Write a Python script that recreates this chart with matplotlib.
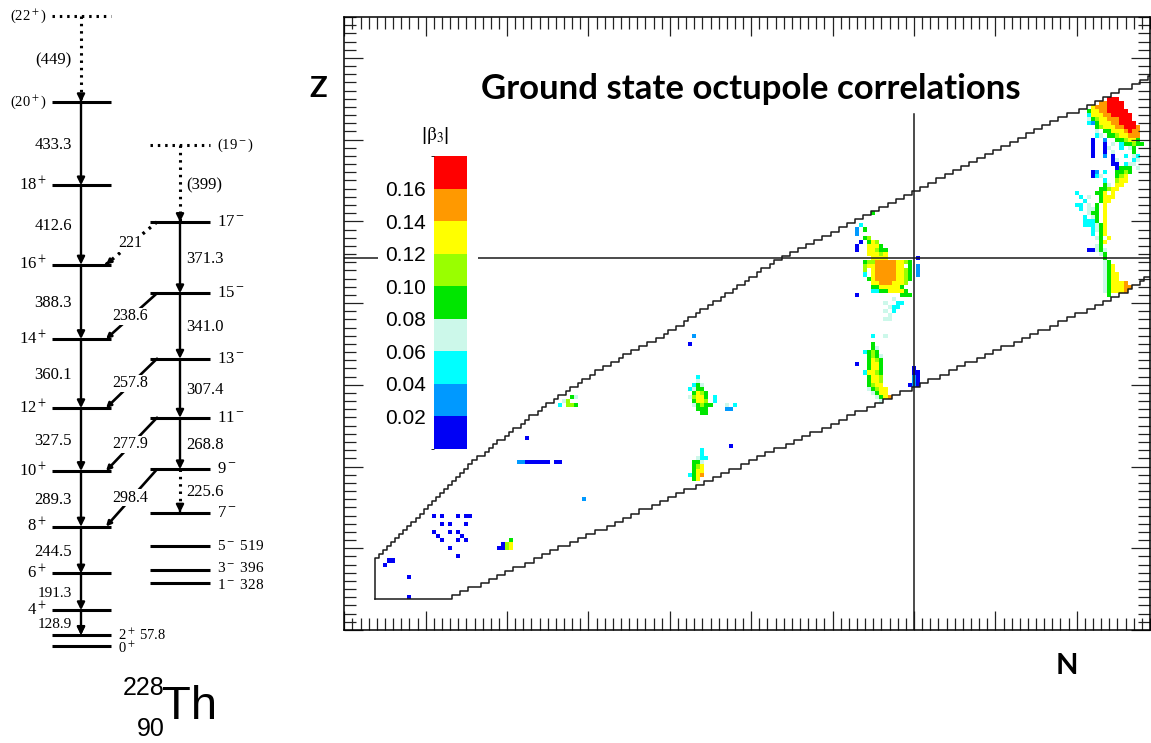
import numpy as np
import matplotlib.pyplot as plt
from matplotlib.colors import ListedColormap, BoundaryNorm
from matplotlib.cm import ScalarMappable
from matplotlib.patches import Rectangle
from matplotlib.ticker import MultipleLocator

plt.rcParams['mathtext.fontset'] = 'stix'

# ---------------- level scheme of 228Th (keV) ----------------
gsb_spins = ['0', '2', '4', '6', '8', '10', '12', '14', '16', '18', '20', '22']
gsb_gammas = [57.8, 128.9, 191.3, 244.5, 289.3, 327.5, 360.1, 388.3, 412.6, 433.3, 449]
gsb_gamma_labels = ['', '128.9', '191.3', '244.5', '289.3', '327.5', '360.1',
                    '388.3', '412.6', '433.3', '(449)']
low_neg_spins = ['1', '3', '5']
low_neg_energies = [328, 396, 519]
neg_spins = ['7', '9', '11', '13', '15', '17', '19']
neg_gammas = [225.6, 268.8, 307.4, 341.0, 371.3, 399]
neg_gamma_labels = ['225.6', '268.8', '307.4', '341.0', '371.3', '(399)']
e1_gammas = [298.4, 277.9, 257.8, 238.6, 221]      # 9-->8+, 11-->10+, ... 17-->16+
e1_labels = ['298.4', '277.9', '257.8', '238.6', '221']

# ---------------- octupole map ----------------
beta_bins = [0, 0.02, 0.04, 0.06, 0.08, 0.10, 0.12, 0.14, 0.16, 0.18]
bin_colors = ['#0000f5', '#0099ff', '#00ffff', '#ccf8ea', '#00e600',
              '#99ff00', '#ffff00', '#ff9900', '#ff0000']
bar_ticks = ['0.02', '0.04', '0.06', '0.08', '0.10', '0.12', '0.14', '0.16']
# code letter -> |beta3|
code_beta = {'b': 0.01, 'a': 0.03, 'c': 0.05, 'm': 0.07, 'g': 0.09,
             'l': 0.11, 'y': 0.13, 'o': 0.15, 'r': 0.17}

# (Z, first N, codes along N)
cells = [
    (8, 16, 'b'), (13, 16, 'b'), (16, 10, 'b'), (17, 11, 'bb'),
    (18, 28, 'b'), (20, 26, 'b'), (22, 24, 'b...b.b'), (23, 23, 'b.....b'),
    (24, 22, 'b...b.b'), (26, 24, 'b.b...b'), (28, 22, 'b.b...b.bb'),
    (20, 38, 'bbly'), (21, 39, 'bly'), (22, 41, 'g'),
    (32, 59, 'a'), (41, 43, 'aabbbbbb.bb'), (47, 45, 'b'),
    (55, 53, 'c.llg'), (56, 54, 'ml'), (57, 56, 'gm'),
    (37, 86, 'gy'), (38, 85, 'cgyo'), (39, 86, 'gyy'), (40, 86, 'gly'),
    (41, 86, 'ggm'), (42, 87, 'mcc'), (43, 88, 'c'), (44, 88, 'c'), (45, 95, 'b'),
    (53, 88, 'gg'), (54, 87, 'ggg....aa'), (55, 86, 'mglgg...m.c'),
    (56, 86, 'gyyl.c'), (57, 85, 'mlyyg.c'), (58, 86, 'gylg'), (59, 85, 'cmgg'),
    (60, 86, 'cgm'), (61, 87, 'm'), (62, 87, 'c'), (70, 85, 'b'), (72, 86, 'a'),
    (56, 132, 'm'), (57, 131, 'mgyo'), (58, 130, 'mgyy'), (59, 129, 'mglyy'),
    (60, 129, 'glyy......bab'), (61, 129, 'gyyl.......ab'), (62, 129, 'gyyl.......ab'),
    (63, 128, 'cyylg.......bb'), (64, 129, 'gyyg.......b'), (65, 126, 'b..gyyg'),
    (66, 129, 'gylg'), (67, 129, 'glgm'), (68, 128, 'cglg'), (69, 130, 'gm'),
    (70, 130, 'g'), (72, 130, 'c..m'),
    (76, 133, 'mm'), (77, 134, 'm'), (78, 133, 'm.c'), (79, 134, 'mcc'),
    (80, 133, 'm..cc'), (81, 135, 'm'), (82, 126, 'b..........ggg'),
    (83, 130, 'ccggyyyyg'), (84, 130, 'ggyyyyyg'), (85, 130, 'yyoooyyyl'),
    (86, 129, 'gyoooooyylg'), (87, 128, 'c.yoooooyylg.a'), (88, 128, 'l.yoooooyylg.a'),
    (89, 128, 'lyyoooooyy.g.a'), (90, 128, 'glloooooyylg'), (91, 130, 'yyyy.......b'),
    (92, 129, 'yyyly'), (93, 126, 'b..yylgg'), (94, 126, 'b..yyyg'),
    (95, 127, 'b.gyl'), (96, 128, 'gl'), (97, 126, 'a'), (98, 126, 'a.g'),
    (99, 127, 'c'), (102, 130, 'g'),
    (82, 188, 'g'), (83, 187, 'mgyyyo'), (84, 187, 'mgyyyoo'), (85, 187, 'mgyyyo'),
    (86, 187, 'mgyy'), (87, 187, 'mgyy'), (88, 187, 'mgy'), (89, 187, 'mgy'),
    (90, 187, 'mg'), (91, 187, 'g'), (92, 186, 'mg'), (93, 183, 'bbmgm'),
    (94, 185, 'mg'), (95, 186, 'gy'), (96, 185, 'mg.y'), (97, 184, 'c.gy'),
    (98, 184, 'cmgy'), (99, 182, 'cccmgy'), (100, 182, 'cccg.y'), (101, 182, 'c.mg.y'),
    (102, 183, 'mgg.y'), (103, 181, 'c.mmg.y'), (104, 180, 'cc.m.g.y'),
    (105, 182, 'c...gyy'), (106, 181, 'c.m..gyyy'), (107, 180, 'c....ggy.y'),
    (108, 186, 'gglyy'), (109, 187, 'gm.yy'), (110, 187, 'c..lyy'),
    (111, 184, 'bcm...gly'), (112, 184, 'ba.c..gglg'), (113, 190, 'bggg.m'),
    (114, 189, 'bb.cmm'), (115, 189, 'bm...cm'), (116, 184, 'b..a.b..c.mc'),
    (117, 184, 'b..b.m....g'), (118, 184, 'b..bm..c.mg'), (119, 184, 'b..b.m.cgglgg'),
    (120, 184, 'b..a..gglyyg'), (121, 185, 'cm.gglyyooo'), (122, 185, 'm.ggyyyoroo'),
    (123, 185, 'glyyyoorrro'), (124, 183, 'cagyyyoorrrr'), (125, 183, 'mglyyooorrr'),
    (126, 183, 'cyyyoorrrrr'), (127, 183, 'gyyoorrrrr'), (128, 184, 'yooorrrr'),
    (129, 186, 'oorrrr'), (130, 188, 'rrr'),
]

# staircase limits of the calculated region (per proton number Z)
upper_z = list(range(8, 137))
upper_nmin = [8, 8, 8, 8, 8, 8, 8, 8, 8, 8,
              9, 10, 11, 12, 13, 14, 15, 16, 17, 18, 19, 20, 21,
              22, 23, 24, 25, 26, 27, 28, 29, 30, 31, 32, 33, 35, 36, 37, 38, 40,
              41, 42, 44, 45, 46, 48, 49, 50, 52, 53, 55, 56, 58, 59, 61, 62, 64,
              66, 68, 69, 71, 73, 75, 77, 79, 80, 82, 84, 85, 87, 88, 90, 91, 93,
              94, 96, 97, 99, 100, 102, 103, 105, 106, 108, 110, 112, 114, 116,
              118, 120, 122, 124, 126, 128, 130, 132, 134, 136, 138, 140, 142,
              144, 146, 148, 150, 152, 154, 156, 158, 160, 162, 164, 166, 168,
              170, 172, 174, 176, 178, 181, 183, 185, 187, 189, 191, 194, 196,
              198, 200]
lower_z = list(range(8, 88))
lower_nmax = [26, 28, 30, 33, 35, 37, 39, 41, 44, 46, 48, 50, 52, 55, 57, 59,
              61, 64, 66, 68, 70, 72, 75, 77, 79, 81, 83, 86, 88, 90, 92, 94,
              97, 99, 101, 103, 105, 108, 110, 112, 114, 117, 119, 121, 123, 125,
              128, 130, 132, 134, 136, 139, 141, 143, 146, 148, 150, 152, 155,
              157, 159, 161, 164, 166, 168, 170, 173, 175, 177, 179, 182, 184,
              186, 188, 190, 192, 193, 195, 196, 198]
marked_n = 140
marked_z = 91

W, H = 1151, 743
fig = plt.figure(figsize=(W / 100, H / 100), dpi=100)

# ======================= left: level scheme =======================
axl = fig.add_axes([0, 0, 340 / W, 1])
axl.set_axis_off()
px_per_kev = 630 / 3282.6
axl.set_xlim(0, 340)
axl.set_ylim(-(H - 646) / px_per_kev, 646 / px_per_kev)

serif = 'Liberation Serif'
dotted = (0, (0.8, 1.6))
gsb_E = np.concatenate([[0], np.cumsum(gsb_gammas)])
E9 = gsb_E[4] + e1_gammas[0]
E7 = E9 - neg_gammas[0]
neg_E = E7 + np.concatenate([[0], np.cumsum(neg_gammas)])


def arrow(ax, x0, y0, x1, y1, ls='-', lw=1.7, ms=11):
    if ls == '-':
        ax.annotate('', xy=(x1, y1), xytext=(x0, y0),
                    arrowprops=dict(arrowstyle='-|>', lw=lw, color='k',
                                    mutation_scale=ms, shrinkA=0, shrinkB=0))
    else:
        ax.plot([x0, x1], [y0, y1], color='k', lw=lw + 0.5, ls=dotted)
        fx = x1 + (x0 - x1) * 0.001
        fy = y1 + (y0 - y1) * 0.001
        ax.annotate('', xy=(x1, y1), xytext=(fx, fy),
                    arrowprops=dict(arrowstyle='-|>', lw=lw, color='k',
                                    mutation_scale=ms, shrinkA=0, shrinkB=0))


# ground band levels
for i, (s, E) in enumerate(zip(gsb_spins, gsb_E)):
    ls = dotted if s == '22' else '-'
    axl.plot([52, 111], [E, E], color='k', lw=2.2, ls=ls, solid_capstyle='butt')
    if s in ('0', '2'):
        continue
    lab = '(%s$^+$)' % s if s in ('20', '22') else '%s$^+$' % s
    fs = 10.5 if s in ('20', '22') else 12
    axl.text(47, E, lab, ha='right', va='center', fontsize=fs, family=serif)
axl.text(118, gsb_E[1], '2$^+$ 57.8', ha='left', va='center', fontsize=10.5, family=serif)
axl.text(118, gsb_E[0] - 12, '0$^+$', ha='left', va='center', fontsize=10.5, family=serif)

# ground band transitions
for i in range(1, len(gsb_gammas)):
    Ehi, Elo = gsb_E[i + 1], gsb_E[i]
    arrow(axl, 81, Ehi, 81, Elo, ls=':' if i == len(gsb_gammas) - 1 else '-')
    fs = 12 if i > 2 else 11
    axl.text(72, (Ehi + Elo) / 2 - 8, gsb_gamma_labels[i], ha='right', va='center',
             fontsize=fs, family=serif)
arrow(axl, 81, gsb_E[1] + 25, 81, gsb_E[1])

# negative parity levels
for s, E in zip(low_neg_spins, low_neg_energies):
    axl.plot([150, 210], [E, E], color='k', lw=2.2, solid_capstyle='butt')
    shift = {'1': -10, '3': 10}.get(s, 0)
    axl.text(217, E + shift, '%s$^-$ %d' % (s, E), ha='left', va='center',
             fontsize=11, family=serif)
for s, E in zip(neg_spins, neg_E):
    ls = dotted if s == '19' else '-'
    axl.plot([150, 210], [E, E], color='k', lw=2.2, ls=ls, solid_capstyle='butt')
    lab = '(%s$^-$)' % s if s == '19' else '%s$^-$' % s
    axl.text(217, E, lab, ha='left', va='center', fontsize=12 if s != '19' else 10.5,
             family=serif)
for i in range(len(neg_gammas)):
    Ehi, Elo = neg_E[i + 1], neg_E[i]
    dashed = i in (0, len(neg_gammas) - 1)
    arrow(axl, 180, Ehi, 180, Elo, ls=':' if dashed else '-')
    axl.text(186, (Ehi + Elo) / 2 - 8, neg_gamma_labels[i], ha='left', va='center',
             fontsize=12, family=serif)

# E1 links
for k, (g, lab) in enumerate(zip(e1_gammas, e1_labels)):
    Ehi = neg_E[k + 1]
    Elo = gsb_E[4 + k]
    arrow(axl, 157, Ehi, 106, Elo, ls=':' if lab == '221' else '-', lw=1.9, ms=7)
    axl.text(130, (Ehi + Elo) / 2, lab, ha='center', va='center', fontsize=11.5,
             family=serif, bbox=dict(facecolor='white', edgecolor='none', pad=0.3))

fig.text(144 / W, 1 - 688 / H, '228', ha='center', va='center', fontsize=18,
         family='Liberation Sans')
fig.text(151 / W, 1 - 729 / H, '90', ha='center', va='center', fontsize=18,
         family='Liberation Sans')
fig.text(190 / W, 1 - 707 / H, 'Th', ha='center', va='center', fontsize=34,
         family='Liberation Sans')

# ======================= right: octupole map =======================
ax = fig.add_axes([344.3 / W, (H - 630) / H, (1150 - 344.3) / W, 613 / H])
ax.set_xlim(0, 198)
ax.set_ylim(0, 150)

cmap = ListedColormap(bin_colors)
norm = BoundaryNorm(beta_bins, cmap.N)
grid = np.full((151, 199), np.nan)
for z, n0, codes in cells:
    for i, ch in enumerate(codes):
        if ch != '.':
            grid[z, n0 + i] = code_beta[ch]
ax.pcolormesh(np.arange(-0.5, 199.5), np.arange(-0.5, 151.5), grid,
              cmap=cmap, norm=norm, shading='flat')

# boundary of the calculated region
up = [(upper_nmin[0] - 0.5, upper_z[0] - 0.5)]
for z, n in zip(upper_z, upper_nmin):
    up += [(n - 0.5, z - 0.5), (n - 0.5, z + 0.5)]
lo = [(upper_nmin[0] - 0.5, lower_z[0] - 0.5)]
for z, n in zip(lower_z, lower_nmax):
    lo += [(n + 0.5, z - 0.5), (n + 0.5, z + 0.5)]
up = np.array(up)
lo = np.array(lo)
ax.plot(up[:, 0], up[:, 1], color='#1a1a1a', lw=1.1)
ax.plot(lo[:, 0], lo[:, 1], color='#1a1a1a', lw=1.1)

ax.axvline(marked_n, ymax=0.842, color='#1a1a1a', lw=1.1)
ax.axhline(marked_z, color='#1a1a1a', lw=1.1)

for sp in ax.spines.values():
    sp.set_linewidth(1.1)
ax.xaxis.set_major_locator(MultipleLocator(20))
ax.xaxis.set_minor_locator(MultipleLocator(2))
ax.yaxis.set_major_locator(MultipleLocator(20))
ax.yaxis.set_minor_locator(MultipleLocator(2))
ax.tick_params(which='both', direction='in', top=True, right=True,
               labelbottom=False, labelleft=False, width=0.9, color='#222222')
ax.tick_params(which='major', length=13.5)
ax.tick_params(which='minor', length=8.5)

# white legend box hiding the line, and the colour bar
fig.add_artist(Rectangle((378 / W, 1 - 455 / H), 100 / W, 335 / H,
                         transform=fig.transFigure, facecolor='white',
                         edgecolor='none', zorder=1))
cax = fig.add_axes([434.3 / W, 1 - 449 / H, 32.4 / W, 293 / H], zorder=2)
cb = fig.colorbar(ScalarMappable(norm=norm, cmap=cmap), cax=cax,
                  ticks=[float(t) for t in bar_ticks])
cb.outline.set_visible(False)
cax.yaxis.set_ticks_position('left')
cax.set_yticklabels(bar_ticks)
cax.tick_params(length=0, labelsize=15, pad=6)
for t in cax.get_yticklabels():
    t.set_family('Liberation Sans')
fig.text(435 / W, 1 - 136 / H, r'|$\mathrm{\beta}_3$|', ha='center', va='center',
         fontsize=14, family='Liberation Sans', zorder=3)

fig.text(751 / W, 1 - 99 / H, 'Ground state octupole correlations', ha='center',
         va='baseline', fontsize=25, fontweight='bold', family='Lato')
fig.text(318 / W, 1 - 89 / H, 'Z', ha='center', va='center', fontsize=21,
         fontweight='bold', family='Lato')
fig.text(1067 / W, 1 - 666 / H, 'N', ha='center', va='center', fontsize=21,
         fontweight='bold', family='Lato')

fig.savefig('out.png', dpi=100)
